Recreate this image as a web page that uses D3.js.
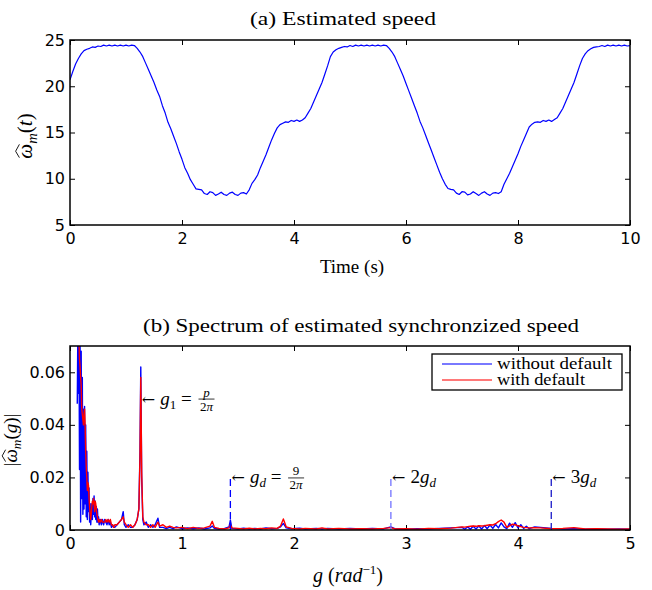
<!DOCTYPE html>
<html lang="en">
<head>
  <meta charset="UTF-8">
  <script src="https://cdn.jsdelivr.net/npm/d3@7/dist/d3.min.js"></script>
  <title>speed</title>
  <style>
    body { margin: 0; background: #fff; }
    .tick text { font-family: "DejaVu Sans", sans-serif; font-size: 16px; fill: #000; }
    .tick line { stroke: #000; stroke-width: 1; }
    .serif { font-family: "Liberation Serif", "DejaVu Serif", serif; fill: #000; }
  </style>
</head>
<body>
  <svg class="svg" width="652" height="590"></svg>
  <script>
    // (a) estimated speed, sampled every dt seconds
    const dt = 0.05
    const speedValues = [
      20.7, 21.6, 22.4, 23.0, 23.5, 23.85, 24.0, 24.1, 24.25, 24.2,
      24.35, 24.3, 24.45, 24.35, 24.45, 24.35, 24.45, 24.35, 24.45, 24.35,
      24.45, 24.35, 24.45, 24.4, 24.1, 23.7, 23.2, 22.5, 21.8, 21.1,
      20.4, 19.6, 18.9, 17.9, 17.1, 16.1, 15.4, 14.6, 13.8, 12.9,
      12.1, 11.2, 10.6, 9.9, 9.4, 8.9, 8.85, 8.8, 8.4, 8.3,
      8.6, 8.5, 8.2, 8.35, 8.55, 8.3, 8.2, 8.45, 8.55, 8.3,
      8.2, 8.45, 8.5, 8.35, 8.8, 9.5, 9.9, 10.4, 11.2, 11.9,
      12.6, 13.4, 14.2, 14.9, 15.5, 15.85, 16.0, 16.15, 16.1, 16.3,
      16.2, 16.35, 16.2, 16.35, 16.6, 17.1, 17.6, 18.3, 19.0, 19.7,
      20.4, 21.3, 22.2, 23.2, 23.7, 23.95, 24.1, 24.2, 24.3, 24.25,
      24.4, 24.3, 24.45, 24.35, 24.45, 24.35, 24.45, 24.35, 24.45, 24.35,
      24.45, 24.35, 24.45, 24.4, 24.1, 23.7, 23.2, 22.5, 21.8, 21.1,
      20.3, 19.5, 18.7, 17.9, 17.1, 16.2, 15.5, 14.7, 13.9, 13.1,
      12.3, 11.5, 10.7, 10.0, 9.4, 8.95, 8.85, 8.8, 8.45, 8.3,
      8.6, 8.55, 8.25, 8.35, 8.6, 8.4, 8.2, 8.45, 8.6, 8.35,
      8.2, 8.45, 8.5, 8.4, 8.6, 9.4, 10.0, 10.6, 11.3, 12.0,
      12.7, 13.5, 14.2, 14.9, 15.6, 15.9, 16.1, 16.15, 16.1, 16.3,
      16.2, 16.35, 16.2, 16.4, 16.6, 17.1, 17.6, 18.3, 19.0, 19.7,
      20.4, 21.3, 22.2, 23.0, 23.5, 23.85, 24.05, 24.2, 24.25, 24.3,
      24.4, 24.3, 24.45, 24.35, 24.45, 24.35, 24.45, 24.35, 24.45, 24.35,
      24.4
    ]
    const speedXTicks = [0, 2, 4, 6, 8, 10]
    const speedYTicks = [5, 10, 15, 20, 25]

    // (b) spectrum
    const specG = [
      0.065, 0.07, 0.075, 0.08, 0.085, 0.09, 0.095, 0.1, 0.105, 0.11,
      0.115, 0.12, 0.125, 0.13, 0.135, 0.14, 0.145, 0.15, 0.155, 0.16,
      0.165, 0.17, 0.175, 0.18, 0.185, 0.19, 0.195, 0.2, 0.205, 0.21,
      0.215, 0.22, 0.225, 0.23, 0.235, 0.24, 0.245, 0.25, 0.255, 0.26,
      0.27, 0.28, 0.29, 0.3, 0.31, 0.32, 0.33, 0.34, 0.35, 0.36,
      0.37, 0.38, 0.39, 0.4, 0.42, 0.44, 0.46, 0.475, 0.485, 0.5,
      0.52, 0.54, 0.56, 0.58, 0.6, 0.615, 0.625, 0.632, 0.64, 0.65,
      0.66, 0.68, 0.7, 0.72, 0.74, 0.76, 0.785, 0.8, 0.83, 0.86,
      0.89, 0.92, 0.95, 1, 1.05, 1.1, 1.15, 1.2, 1.25, 1.27,
      1.29, 1.33, 1.38, 1.42, 1.432, 1.445, 1.5, 1.55, 1.6, 1.65,
      1.7, 1.75, 1.8, 1.85, 1.88, 1.905, 1.93, 1.98, 2.05, 2.1,
      2.2, 2.25, 2.3, 2.4, 2.5, 2.6, 2.7, 2.8, 2.864, 2.9,
      3, 3.1, 3.2, 3.3, 3.4, 3.5, 3.525, 3.55, 3.575, 3.6,
      3.625, 3.65, 3.675, 3.7, 3.725, 3.75, 3.775, 3.8, 3.825, 3.85,
      3.875, 3.9, 3.925, 3.95, 3.975, 4, 4.025, 4.05, 4.075, 4.1,
      4.15, 4.2, 4.3, 4.4, 4.5, 4.6, 4.7, 4.8, 4.9, 5
    ]
    const specWithout = [
      0.048, 0.075, 0.052, 0.075, 0.023, 0.070, 0.003, 0.068, 0.012, 0.058,
      0.006, 0.046, 0.008, 0.047, 0.010, 0.040, 0.005, 0.030, 0.004, 0.022,
      0.007, 0.016, 0.003, 0.010, 0.002, 0.006, 0.010, 0.004, 0.012, 0.006,
      0.013, 0.005, 0.011, 0.004, 0.009, 0.003, 0.008, 0.003, 0.005, 0.002,
      0.004, 0.002, 0.004, 0.002, 0.004, 0.003, 0.002, 0.004, 0.002, 0.003,
      0.001, 0.002, 0.001, 0.001, 0.002, 0.003, 0.004, 0.007, 0.002, 0.001,
      0.002, 0.001, 0.001, 0.002, 0.004, 0.008, 0.030, 0.062, 0.020, 0.004,
      0.002, 0.003, 0.001, 0.002, 0.001, 0.002, 0.0045, 0.001, 0.001, 0.0005,
      0.001, 0.0005, 0.0012, 0.0005, 0.0008, 0.0005, 0.0008, 0.0004, 0.0008, 0.0015,
      0.0006, 0.0004, 0.0006, 0.0012, 0.0038, 0.0006, 0.0004, 0.0007, 0.0004, 0.0006,
      0.0004, 0.0008, 0.0005, 0.0006, 0.0012, 0.0025, 0.0008, 0.0005, 0.0007, 0.0004,
      0.0006, 0.0004, 0.0006, 0.0004, 0.0006, 0.0004, 0.0006, 0.0004, 0.0012, 0.0005,
      0.0003, 0.0005, 0.0004, 0.0006, 0.0008, 0.0010, 0.0003, 0.0012, 0.0003, 0.0014,
      0.0004, 0.0015, 0.0004, 0.0017, 0.0005, 0.0019, 0.0006, 0.0021, 0.0008, 0.0027,
      0.0012, 0.0005, 0.0026, 0.0010, 0.0028, 0.0008, 0.0020, 0.0006, 0.0014, 0.0005,
      0.0012, 0.0010, 0.0006, 0.0004, 0.0005, 0.0003, 0.0004, 0.0003, 0.0004, 0.0003
    ]
    const specWith = [
      0.075, 0.080, 0.078, 0.072, 0.065, 0.062, 0.058, 0.055, 0.046, 0.044,
      0.042, 0.040, 0.044, 0.046, 0.040, 0.030, 0.024, 0.020, 0.015, 0.018,
      0.017, 0.012, 0.009, 0.006, 0.004, 0.006, 0.009, 0.011, 0.010, 0.012,
      0.010, 0.007, 0.011, 0.010, 0.008, 0.006, 0.005, 0.004, 0.003, 0.004,
      0.003, 0.004, 0.003, 0.003, 0.003, 0.004, 0.003, 0.004, 0.003, 0.004,
      0.002, 0.002, 0.001, 0.002, 0.002, 0.003, 0.004, 0.005, 0.003, 0.002,
      0.001, 0.002, 0.001, 0.002, 0.004, 0.008, 0.028, 0.058, 0.022, 0.005,
      0.003, 0.002, 0.002, 0.001, 0.002, 0.001, 0.003, 0.0015, 0.002, 0.001,
      0.0015, 0.001, 0.0008, 0.001, 0.0005, 0.001, 0.0006, 0.0008, 0.0015, 0.0033,
      0.001, 0.0006, 0.0004, 0.0008, 0.002, 0.0008, 0.0006, 0.0004, 0.0007, 0.0004,
      0.0006, 0.0005, 0.0008, 0.0006, 0.0015, 0.0042, 0.0012, 0.0006, 0.0004, 0.0006,
      0.0004, 0.0008, 0.0004, 0.0006, 0.0004, 0.0005, 0.0004, 0.0006, 0.0009, 0.0004,
      0.0005, 0.0003, 0.0006, 0.0005, 0.0007, 0.0012, 0.0011, 0.0013, 0.0014, 0.0015,
      0.0014, 0.0016, 0.0015, 0.0016, 0.0018, 0.0020, 0.0019, 0.0024, 0.0032, 0.0038,
      0.0030, 0.0010, 0.0016, 0.0022, 0.0020, 0.0016, 0.0013, 0.0010, 0.0009, 0.0008,
      0.0009, 0.0008, 0.0005, 0.0006, 0.0009, 0.0004, 0.0005, 0.0004, 0.0003, 0.0004
    ]
    const specXTicks = [0, 1, 2, 3, 4, 5]
    const specYTicks = [0, 0.02, 0.04, 0.06]
    const g1 = 0.632
    const harmonicG = [1.432, 2.865, 4.297]
    const harmonicColors = ["#0000ff", "#7272ff", "#1a1ac8"]
    const legendNames = ["without default", "with default"]
    const legendWidths = [115, 88]
    const seriesColors = ["#0000ff", "#ff0000"]

    let svg = d3.select(".svg")
    const nb = "\u00a0"

    let xa = d3.scaleLinear().domain([0, 10]).range([70, 630])
    let ya = d3.scaleLinear().domain([5, 25]).range([225, 40])
    let xb = d3.scaleLinear().domain([0, 5]).range([70, 630])
    let yb = d3.scaleLinear().domain([0, 0.07]).range([530, 346])

    function frame(x, y, xt, yt, yfmt, id) {
      let [x0, x1] = x.range()
      let [y0, y1] = y.range()
      svg.append("clipPath").attr("id", id)
        .append("rect").attr("x", x0).attr("y", y1).attr("width", x1 - x0).attr("height", y0 - y1)
      svg.append("g").attr("transform", `translate(0,${y0})`)
        .call(d3.axisBottom(x).tickValues(xt).tickSize(-5).tickPadding(8).tickFormat(d3.format("d")))
        .call(g => g.select(".domain").remove())
      svg.append("g").attr("transform", `translate(0,${y1})`)
        .call(d3.axisTop(x).tickValues(xt).tickSize(-5).tickFormat(""))
        .call(g => g.select(".domain").remove())
      svg.append("g").attr("transform", `translate(${x0},0)`)
        .call(d3.axisLeft(y).tickValues(yt).tickSize(-5).tickPadding(5).tickFormat(yfmt))
        .call(g => g.select(".domain").remove())
      svg.append("g").attr("transform", `translate(${x1},0)`)
        .call(d3.axisRight(y).tickValues(yt).tickSize(-5).tickFormat(""))
        .call(g => g.select(".domain").remove())
    }

    function box(x, y) {
      let [x0, x1] = x.range()
      let [y0, y1] = y.range()
      svg.append("rect").attr("x", x0).attr("y", y1)
        .attr("width", x1 - x0).attr("height", y0 - y1)
        .attr("fill", "none").attr("stroke", "#000").attr("stroke-width", 1.5)
    }

    // rotated y label: [pre] omega-hat _m ( arg ) [post]
    function omegaLabel(cx, cy, size, pre, arg, post) {
      let g = svg.append("g").attr("transform", `translate(${cx},${cy}) rotate(-90)`)
      let t = g.append("text").attr("class", "serif")
        .attr("text-anchor", "middle").attr("font-size", size)
      if (pre) t.append("tspan").text(pre)
      t.append("tspan").attr("font-style", "italic").text("ω")
      t.append("tspan").attr("font-style", "italic").attr("font-size", size * 0.7)
        .attr("dy", size * 0.22).text("m")
      t.append("tspan").attr("dy", -size * 0.22).text("(")
      t.append("tspan").attr("font-style", "italic").text(arg)
      t.append("tspan").text(")" + post)
      let i = pre.length
      let a = t.node().getStartPositionOfChar(i)
      let b = t.node().getEndPositionOfChar(i)
      g.append("path")
        .attr("d", `M${a.x + 1},${-size * 0.6} L${(a.x + b.x) / 2},${-size * 0.78} L${b.x - 0.5},${-size * 0.6}`)
        .attr("fill", "none").attr("stroke", "#000").attr("stroke-width", 0.9)
    }

    // ---------- (a) ----------
    frame(xa, ya, speedXTicks, speedYTicks, d3.format("d"), "clipA")

    svg.append("path")
      .datum(speedValues)
      .attr("clip-path", "url(#clipA)")
      .attr("fill", "none")
      .attr("stroke", "#0000ff")
      .attr("stroke-width", 1.2)
      .attr("stroke-linejoin", "round")
      .attr("d", d3.line().x((d, i) => xa(i * dt)).y(d => ya(d)))
    box(xa, ya)

    svg.append("text").attr("class", "serif")
      .attr("x", 250).attr("y", 25)
      .attr("font-size", 19)
      .attr("textLength", 186).attr("lengthAdjust", "spacingAndGlyphs")
      .text("(a)  Estimated speed")

    svg.append("text").attr("class", "serif")
      .attr("x", 352).attr("y", 273)
      .attr("text-anchor", "middle")
      .attr("font-size", 19)
      .text("Time (s)")

    omegaLabel(32, 136, 21, "", "t", "")

    // ---------- (b) ----------
    frame(xb, yb, specXTicks, specYTicks, d => d === 0 ? "0" : d3.format(".2f")(d), "clipB")

    let specLine = d3.line().x((d, i) => xb(specG[i])).y(d => yb(d))
    ;[specWithout, specWith].forEach((s, k) => {
      svg.append("path")
        .datum(s)
        .attr("clip-path", "url(#clipB)")
        .attr("fill", "none")
        .attr("stroke", seriesColors[k])
        .attr("stroke-width", 1.4)
        .attr("stroke-linejoin", "round")
        .attr("d", specLine)
    })

    // harmonic markers
    svg.append("g")
      .selectAll("line")
      .data(harmonicG)
      .join("line")
      .attr("x1", d => xb(d)).attr("x2", d => xb(d))
      .attr("y1", yb(0)).attr("y2", yb(0.02))
      .attr("stroke", (d, i) => harmonicColors[i])
      .attr("stroke-width", 1.3)
      .attr("stroke-dasharray", "7,4")

    box(xb, yb)

    // annotation: arrow + symbol (+ optional fraction)
    function annotate(gx, gv, pre, sub, frac) {
      let x0 = xb(gx) + 1
      let y0 = yb(gv) + 6
      let t = svg.append("text").attr("class", "serif")
        .attr("x", x0).attr("y", y0).attr("font-size", 19)
      t.append("tspan").attr("font-family", "DejaVu Serif").attr("font-size", 16).text("\u2190" + nb)
      if (pre) t.append("tspan").text(pre)
      t.append("tspan").attr("font-style", "italic").text("g")
      t.append("tspan").attr("font-style", sub === "1" ? "normal" : "italic")
        .attr("font-size", 13).attr("dy", 4).text(sub)
      if (frac) {
        t.append("tspan").attr("dy", -4).text(nb + "=" + nb)
        let fx = x0 + t.node().getComputedTextLength() + 10
        svg.append("text").attr("class", "serif")
          .attr("x", fx).attr("y", y0 - 8).attr("text-anchor", "middle")
          .attr("font-size", 13).attr("font-style", frac[0] === "p" ? "italic" : "normal")
          .text(frac[0])
        svg.append("line")
          .attr("x1", fx - 8).attr("x2", fx + 8)
          .attr("y1", y0 - 5.5).attr("y2", y0 - 5.5)
          .attr("stroke", "#000").attr("stroke-width", 0.8)
        let den = svg.append("text").attr("class", "serif")
          .attr("x", fx).attr("y", y0 + 6).attr("text-anchor", "middle")
          .attr("font-size", 13)
        den.append("tspan").text("2")
        den.append("tspan").attr("font-style", "italic").text("π")
      }
    }
    annotate(g1, 0.05, "", "1", ["p"])
    annotate(harmonicG[0], 0.02, "", "d", ["9"])
    annotate(harmonicG[1], 0.02, "2", "d", null)
    annotate(harmonicG[2], 0.02, "3", "d", null)

    // legend
    let lg = svg.append("g")
    lg.append("rect").attr("x", 432).attr("y", 354).attr("width", 190).attr("height", 36)
      .attr("fill", "#fff").attr("stroke", "#000").attr("stroke-width", 1.3)
    legendNames.forEach((n, i) => {
      lg.append("line")
        .attr("x1", 442).attr("x2", 492)
        .attr("y1", 364 + i * 16).attr("y2", 364 + i * 16)
        .attr("stroke", seriesColors[i]).attr("stroke-opacity", 0.7).attr("stroke-width", 1.5)
      lg.append("text").attr("class", "serif")
        .attr("x", 497).attr("y", 369 + i * 16)
        .attr("font-size", 16)
        .attr("textLength", legendWidths[i]).attr("lengthAdjust", "spacingAndGlyphs")
        .text(n)
    })

    svg.append("text").attr("class", "serif")
      .attr("x", 143).attr("y", 332)
      .attr("font-size", 19)
      .attr("textLength", 436).attr("lengthAdjust", "spacingAndGlyphs")
      .text("(b)  Spectrum of estimated synchronzized speed")

    let xlabB = svg.append("text").attr("class", "serif")
      .attr("x", 348).attr("y", 582)
      .attr("text-anchor", "middle")
      .attr("font-size", 20)
    xlabB.append("tspan").attr("font-style", "italic").text("g")
    xlabB.append("tspan").text(nb + "(")
    xlabB.append("tspan").attr("font-style", "italic").text("rad")
    xlabB.append("tspan").attr("font-size", 13).attr("dy", -8).text("−1")
    xlabB.append("tspan").attr("dy", 8).text(")")

    omegaLabel(17, 440, 19, "|", "g", "|")
  </script>
</body>
</html>
